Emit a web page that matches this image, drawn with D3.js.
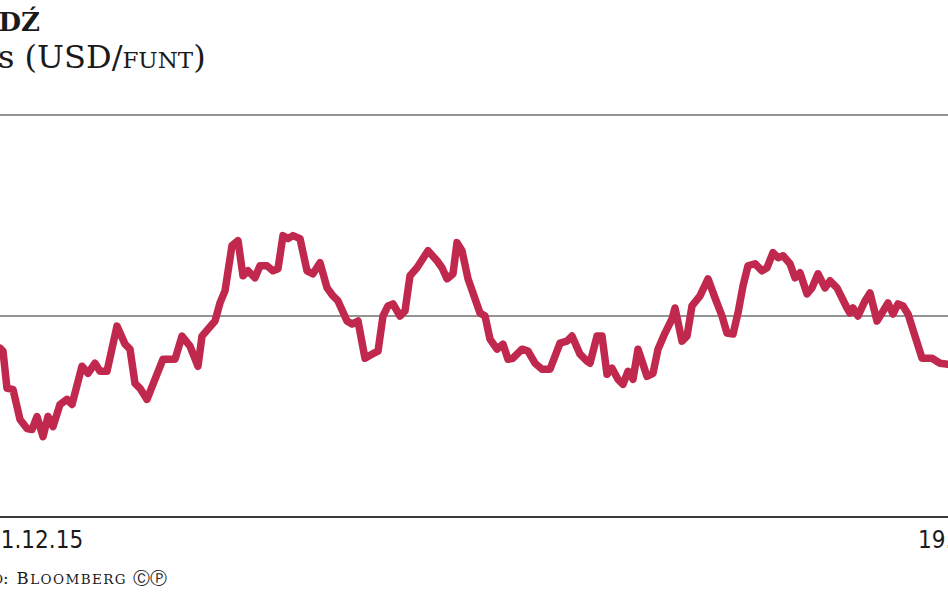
<!DOCTYPE html>
<html><head><meta charset="utf-8">
<script src="https://cdn.jsdelivr.net/npm/d3@7"></script>
<style>body{margin:0;background:#fff;overflow:hidden}</style>
</head><body>
<svg id="c" width="948" height="593"></svg>
<script>
// trading-day index (from 01.12.15) and USD/GBP rate
const days = [0,0.6,1.4,2.6,4,5.4,6.4,7.4,8.6,9.6,10.6,12,13.4,14.4,16.4,17.6,19,20,21.4,23.4,25,26,27,28,29.4,
  32.6,33.6,35,36.4,38,39.6,40.4,41.6,43,44,45,46.4,47.6,48.6,49.6,51,52,53.4,54.6,55.6,56.6,57.6,58.6,60,61.4,62.6,
  64,65.4,66.6,67.6,69.4,70.4,71.6,73,74.4,75.6,76.6,77.6,78.6,80,81,82,83.4,85.6,87.4,88.4,89.4,90.6,91.4,92.4,93.6,
  96,97,98,99.4,100.6,101.6,102.6,104.4,105.6,107,108.4,110,112,113.4,114.4,116,117.4,118,119.4,120.4,121.4,122.4,
  123.6,124.6,125.6,126.6,127.6,128.6,129.4,130.6,131.6,133,134.4,135,136.4,137.4,138.4,140,141.6,143,144.4,145.4,
  146.6,147.6,148.6,149.6,151,152.4,153.4,154.6,155.6,156.6,158,159,160,161.4,162.4,163.6,165,166,167.4,169.4,170,
  170.6,171.6,173,174,175.4,176.4,177.6,178.6,179.6,180.6,181.6,183,184.4,186.4,188,189.6,191];
const rates = [1.384,1.3825,1.364,1.3635,1.3485,1.344,1.3435,1.35,1.34,1.35,1.345,1.356,1.3585,1.356,1.375,1.3715,
  1.3765,1.3725,1.3725,1.395,1.386,1.3835,1.3665,1.364,1.3585,
  1.3785,1.3785,1.3785,1.39,1.385,1.375,1.39,1.3935,1.3975,1.4065,1.4125,1.435,1.4375,1.42,1.4225,1.419,1.425,1.425,
  1.4225,1.4235,1.44,1.4385,1.44,1.4385,1.4225,1.421,
  1.4265,1.414,1.41,1.4075,1.3975,1.396,1.3975,1.379,1.381,1.3825,1.40,1.405,1.406,1.40,1.4025,1.42,1.424,1.4325,
  1.4275,1.424,1.4185,1.421,1.4365,1.4325,1.4185,
  1.4015,1.40,1.3885,1.3835,1.386,1.3785,1.379,1.3835,1.3825,1.3765,1.3735,1.3735,1.3865,1.3875,1.39,1.381,1.3775,
  1.3765,1.39,1.39,1.371,1.374,1.3685,1.366,1.3725,1.3685,1.3835,1.376,1.37,1.3715,1.3835,1.3915,1.3985,1.404,
  1.3875,1.39,1.405,1.41,1.4185,1.409,1.40,1.3915,1.391,1.4015,1.415,1.425,1.426,1.4225,1.424,1.4315,1.429,1.43,
  1.426,1.419,1.4215,1.411,1.414,1.421,1.414,1.4175,1.414,1.404,1.4015,1.404,1.40,1.4075,1.4115,1.3975,1.4015,
  1.4065,1.401,1.406,1.405,1.401,1.39,1.379,1.379,1.3765,1.376,1.375];
const gridValues = [1.5, 1.4, 1.3];
const dateLabels = ["01.12.15", "19.08.16"];
const dateDays = [0, 183.6];

const svg = d3.select("#c");
const x = d3.scaleLinear().domain([0, 190]).range([0, 950]);
const y = d3.scaleLinear().domain([1.3, 1.5]).range([517, 115]);

// grid lines
svg.selectAll("line.grid").data(gridValues).join("line")
  .attr("x1", 0).attr("x2", 948)
  .attr("y1", d => y(d)).attr("y2", d => y(d))
  .attr("stroke", d => d === 1.3 ? "#3a3a3a" : "#707070")
  .attr("stroke-width", d => d === 1.3 ? 2.2 : 1.6);

// line
const data = days.map((d, i) => ({d, v: rates[i]}));
svg.append("path").datum(data)
  .attr("fill", "none")
  .attr("stroke", "#c0284e")
  .attr("stroke-width", 7.5)
  .attr("stroke-linejoin", "round")
  .attr("stroke-linecap", "round")
  .attr("d", d3.line().x(p => x(p.d)).y(p => y(p.v)));

const serif = "'DejaVu Serif', serif";
// title (cropped on the left)
svg.append("text").attr("x", 40).attr("y", 31).attr("text-anchor", "end")
  .attr("font-family", serif).attr("font-weight", "bold").attr("font-size", 26)
  .attr("fill", "#1a1a1a").text("DŹ");

// subtitle
svg.append("text").attr("x", 0).attr("y", 68).attr("text-anchor", "end")
  .attr("font-family", serif).attr("font-size", 32).attr("fill", "#1a1a1a").text("Kur");
const sub = svg.append("text").attr("x", -2).attr("y", 68)
  .attr("font-family", serif).attr("font-size", 32).attr("fill", "#1a1a1a");
sub.append("tspan").text("s (USD/");
sub.append("tspan").attr("font-size", 23).text("FUNT");
sub.append("tspan").text(")");

// date labels
const sans = "'DejaVu Sans Condensed', 'DejaVu Sans', sans-serif";
svg.selectAll("text.date").data(dateLabels).join("text")
  .attr("x", (d, i) => i === 0 ? x(dateDays[i]) - 13 : x(dateDays[i]))
  .attr("y", 548)
  .attr("font-family", sans).attr("font-size", 24).attr("fill", "#1a1a1a")
  .text(d => d);

// source
svg.append("text").attr("x", 3).attr("y", 584).attr("text-anchor", "end")
  .attr("font-family", serif).attr("font-size", 16.5).attr("fill", "#1a1a1a")
  .call(t => { t.append("tspan").text("Ź"); t.append("tspan").attr("font-size", 13.5).text("RÓDŁO"); });
const src = svg.append("text").attr("x", 3).attr("y", 584)
  .attr("font-family", serif).attr("font-size", 16.5).attr("fill", "#1a1a1a")
  .attr("letter-spacing", 1.4);
src.append("tspan").text(": B");
src.append("tspan").attr("font-size", 13.5).text("LOOMBERG ");
src.append("tspan").attr("font-family", "'DejaVu Sans', sans-serif").attr("font-size", 17)
  .attr("letter-spacing", 0).text("ⒸⓅ");
</script>
</body></html>
